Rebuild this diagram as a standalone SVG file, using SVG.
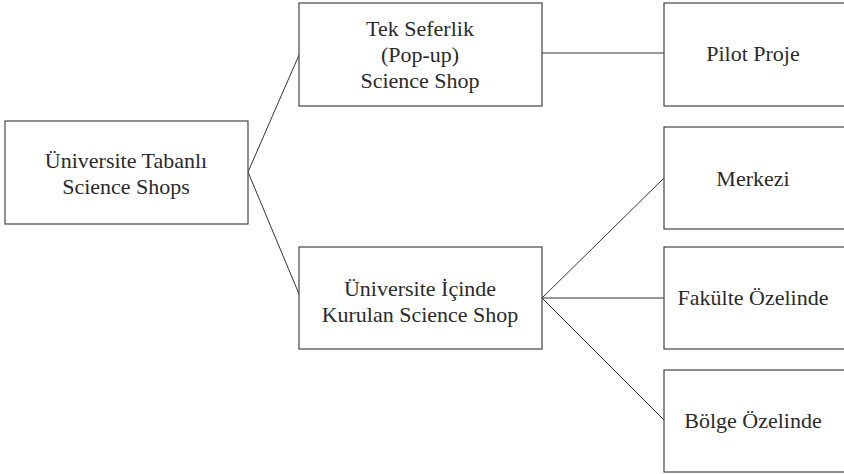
<svg xmlns="http://www.w3.org/2000/svg" width="844" height="474" viewBox="0 0 844 474">
<style>
.box{fill:#fff;stroke:#444;stroke-width:1.2}
.lbl{font-family:'Liberation Serif','Times New Roman','DejaVu Serif',serif;font-size:22px;fill:#2a2a2a;text-anchor:middle}
.con{stroke:#333;stroke-width:1;fill:none}
</style>
<rect width="844" height="474" fill="#fff"/>
<g id="connectors">
<line class="con" x1="248" y1="172" x2="299" y2="55"/>
<line class="con" x1="248" y1="172" x2="299" y2="294"/>
<line class="con" x1="542" y1="53" x2="664" y2="53"/>
<line class="con" x1="542" y1="298" x2="664" y2="178"/>
<line class="con" x1="542" y1="298" x2="664" y2="298"/>
<line class="con" x1="542" y1="298" x2="664" y2="420"/>
</g>
<g id="root">
<rect class="box" x="5" y="121" width="243" height="103"/>
<text class="lbl" x="126" y="168" font-family="Liberation Serif, serif">Üniversite Tabanlı</text>
<text class="lbl" x="126" y="194" font-family="Liberation Serif, serif">Science Shops</text>
</g>
<g id="popup">
<rect class="box" x="299" y="3" width="243" height="103"/>
<text class="lbl" x="420" y="36">Tek Seferlik</text>
<text class="lbl" x="420" y="62">(Pop-up)</text>
<text class="lbl" x="420" y="88">Science Shop</text>
</g>
<g id="inside">
<rect class="box" x="299" y="247" width="243" height="102"/>
<text class="lbl" x="420" y="296">Üniversite İçinde</text>
<text class="lbl" x="420" y="322">Kurulan Science Shop</text>
</g>
<g id="pilot">
<rect class="box" x="664" y="3" width="190" height="103"/>
<text class="lbl" x="753" y="61">Pilot Proje</text>
</g>
<g id="merkezi">
<rect class="box" x="664" y="127" width="190" height="102"/>
<text class="lbl" x="753" y="186">Merkezi</text>
</g>
<g id="fakulte">
<rect class="box" x="664" y="247" width="190" height="102"/>
<text class="lbl" x="753" y="305">Fakülte Özelinde</text>
</g>
<g id="bolge">
<rect class="box" x="664" y="370" width="190" height="102"/>
<text class="lbl" x="753" y="428">Bölge Özelinde</text>
</g>
</svg>
